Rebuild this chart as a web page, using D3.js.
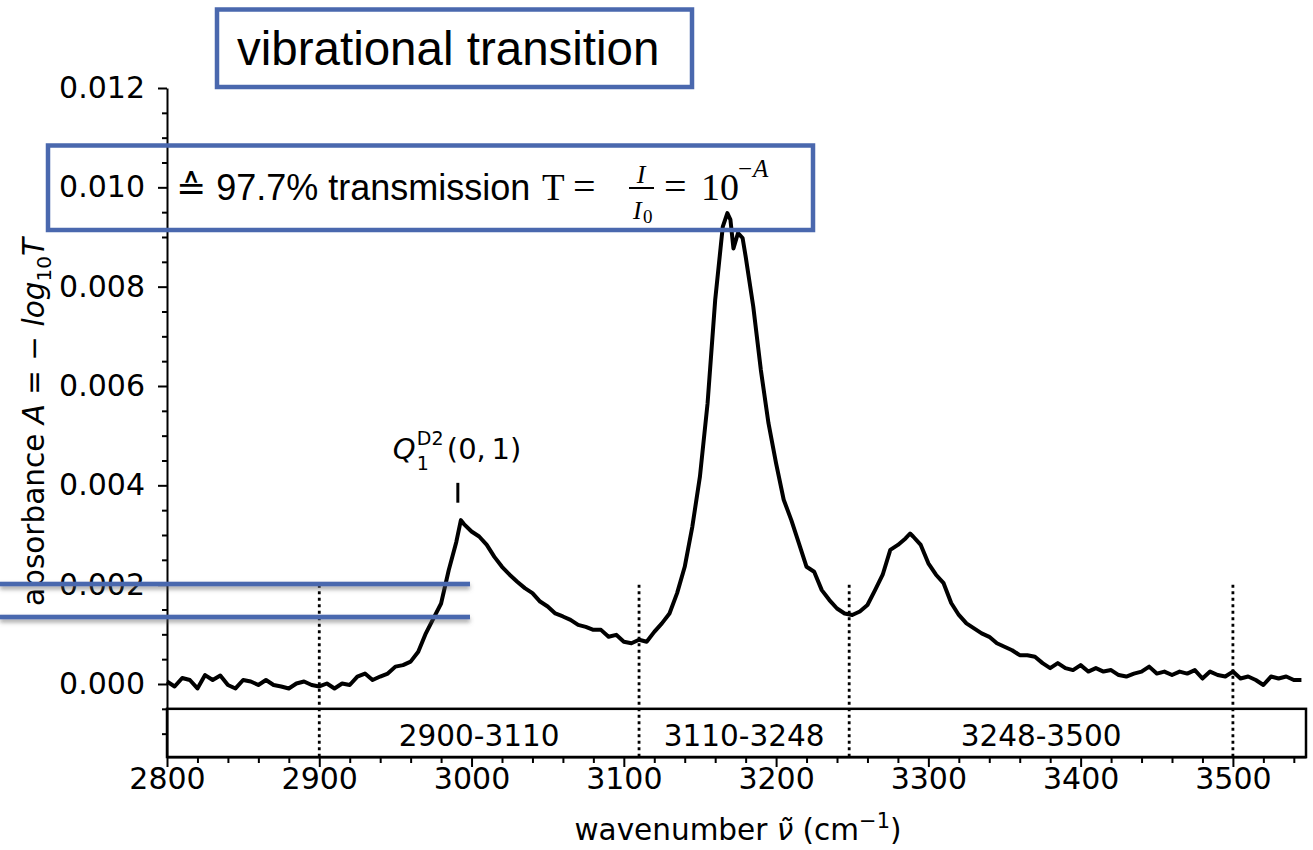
<!DOCTYPE html>
<html>
<head>
<meta charset="utf-8">
<script src="https://cdn.jsdelivr.net/npm/d3@7"></script>
<style>
  body { margin: 0; background: #fff; }
  svg { display: block; }
  .tick text { font-family: "DejaVu Sans", sans-serif; font-size: 30px; fill: #000; }
</style>
</head>
<body>
<svg id="chart" width="1313" height="850"></svg>
<script>
// spectrum (absorbance in units of 1e-3)
const wavenumber = [
  2800, 2805, 2810, 2815, 2820, 2825, 2830, 2835, 2840, 2845,
  2850, 2855, 2860, 2865, 2870, 2875, 2880, 2885, 2890, 2895,
  2900, 2905, 2910, 2915, 2920, 2925, 2930, 2935, 2940, 2945,
  2950, 2955, 2960, 2965, 2970, 2975, 2980, 2985, 2990, 2993,
  2995, 3000, 3005, 3010, 3015, 3020, 3025, 3030, 3035, 3040,
  3045, 3050, 3055, 3060, 3065, 3070, 3075, 3080, 3085, 3090,
  3095, 3100, 3105, 3110, 3115, 3120, 3125, 3130, 3135, 3140,
  3145, 3150, 3155, 3160, 3165, 3168, 3170, 3172, 3175, 3178,
  3180, 3185, 3190, 3195, 3200, 3205, 3210, 3215, 3220, 3225,
  3230, 3235, 3240, 3245, 3250, 3255, 3260, 3265, 3270, 3275,
  3280, 3285, 3288, 3290, 3295, 3300, 3305, 3310, 3315, 3320,
  3325, 3330, 3335, 3340, 3345, 3350, 3355, 3360, 3365, 3370,
  3375, 3380, 3385, 3390, 3395, 3400, 3405, 3410, 3415, 3420,
  3425, 3430, 3435, 3440, 3445, 3450, 3455, 3460, 3465, 3470,
  3475, 3480, 3485, 3490, 3495, 3500, 3505, 3510, 3515, 3520,
  3525, 3530, 3535, 3540, 3545
];
const absorbance = [
  0.05, -0.05, 0.12, 0.08, -0.09, 0.18, 0.08, 0.17, -0.02, -0.09,
  0.08, 0.05, -0.02, 0.08, -0.02, -0.05, -0.09, 0.01, 0.05, -0.02,
  -0.05, 0.01, -0.09, 0.01, -0.02, 0.15, 0.21, 0.08, 0.15, 0.21,
  0.35, 0.38, 0.45, 0.65, 1.02, 1.32, 1.62, 2.29, 2.86, 3.30,
  3.22, 3.07, 2.97, 2.80, 2.56, 2.36, 2.20, 2.06, 1.93, 1.83,
  1.66, 1.56, 1.42, 1.36, 1.29, 1.19, 1.15, 1.09, 1.09, 0.95,
  0.99, 0.85, 0.82, 0.89, 0.85, 1.05, 1.22, 1.42, 1.83, 2.36,
  3.17, 4.18, 5.65, 7.73, 9.21, 9.48, 9.35, 8.77, 9.08, 8.98,
  8.61, 7.60, 6.32, 5.25, 4.44, 3.71, 3.30, 2.83, 2.36, 2.26,
  1.89, 1.69, 1.52, 1.42, 1.39, 1.46, 1.59, 1.89, 2.20, 2.70,
  2.80, 2.93, 3.03, 2.97, 2.80, 2.43, 2.20, 2.03, 1.63, 1.39,
  1.22, 1.12, 1.02, 0.95, 0.82, 0.75, 0.68, 0.58, 0.58, 0.55,
  0.42, 0.32, 0.42, 0.32, 0.28, 0.38, 0.25, 0.32, 0.25, 0.28,
  0.18, 0.15, 0.21, 0.25, 0.35, 0.21, 0.25, 0.18, 0.25, 0.21,
  0.28, 0.11, 0.25, 0.18, 0.15, 0.25, 0.11, 0.15, 0.08, -0.02,
  0.15, 0.11, 0.15, 0.08, 0.08
];

const bandEdges = [2900, 3110, 3248, 3500];
const bandLabels = ["2900-3110", "3110-3248", "3248-3500"];
const xMajorTicks = [2800, 2900, 3000, 3100, 3200, 3300, 3400, 3500];
const yMajorTicks = [0, 2, 4, 6, 8, 10, 12];
const qPeak = 2991;

const blue = "#4a68ae";
const svg = d3.select("#chart");

const x = d3.scaleLinear([2800, 3548], [167, 1306]);
const y = d3.scaleLinear([-1.47, 12], [757, 88]);

const defs = svg.append("defs");
const shadow = defs.append("filter").attr("id", "shadow")
  .attr("filterUnits", "userSpaceOnUse")
  .attr("x", -20).attr("y", 560).attr("width", 520).attr("height", 90);
shadow.append("feDropShadow")
  .attr("dx", 0).attr("dy", 3).attr("stdDeviation", 2.2)
  .attr("flood-color", "#555").attr("flood-opacity", 0.55);

// band box under the spectrum
svg.append("rect")
  .attr("x", x(2800)).attr("y", y(-0.5))
  .attr("width", x(3548) - x(2800)).attr("height", y(-1.47) - y(-0.5))
  .attr("fill", "none").attr("stroke", "#000").attr("stroke-width", 2.5);

svg.selectAll(".edge")
  .data(bandEdges)
  .join("line")
  .attr("class", "edge")
  .attr("x1", (d) => x(d)).attr("x2", (d) => x(d))
  .attr("y1", y(2)).attr("y2", y(-1.47))
  .attr("stroke", "#000").attr("stroke-width", 2.8)
  .attr("stroke-dasharray", "3,3.5");

svg.selectAll(".band-label")
  .data(bandLabels)
  .join("text")
  .attr("class", "band-label")
  .attr("x", (d, i) => (x(bandEdges[i]) + x(bandEdges[i + 1])) / 2)
  .attr("y", 746)
  .attr("text-anchor", "middle")
  .style("font-family", "DejaVu Sans")
  .style("font-size", "29.5px")
  .text((d) => d);

// axes
const axisX = d3.axisBottom(x).tickValues(xMajorTicks).tickSize(10).tickSizeOuter(0).tickPadding(1).tickFormat(d3.format("d"));
const axisXMinor = d3.axisBottom(x).tickValues(d3.range(2820, 3548, 20).filter((d) => d % 100 !== 0)).tickSize(6).tickFormat("");
const axisY = d3.axisLeft(y).tickValues(yMajorTicks).tickSize(9).tickSizeOuter(0).tickPadding(13)
  .tickFormat((d) => (d / 1000).toFixed(3));
const axisYMinor = d3.axisLeft(y).tickValues(d3.range(-1, 12, 0.5).filter((d) => d % 2 !== 0)).tickSize(5).tickFormat("");

svg.append("g").attr("transform", `translate(0,${y(-1.47)})`).call(axisX);
svg.append("g").attr("transform", `translate(0,${y(-1.47)})`).call(axisXMinor).select(".domain").remove();
svg.append("g").attr("transform", `translate(${x(2800)},0)`).call(axisY);
svg.append("g").attr("transform", `translate(${x(2800)},0)`).call(axisYMinor).select(".domain").remove();
svg.selectAll(".domain, .tick line").attr("stroke", "#000").attr("stroke-width", 2);

// spectrum
const line = d3.line()
  .x((d, i) => x(wavenumber[i]))
  .y((d) => y(d));

svg.append("path")
  .attr("d", line(absorbance))
  .attr("fill", "none")
  .attr("stroke", "#000")
  .attr("stroke-width", 4)
  .attr("stroke-linejoin", "round");

// Q label
svg.append("line")
  .attr("x1", x(qPeak)).attr("x2", x(qPeak))
  .attr("y1", y(4.05)).attr("y2", y(3.65))
  .attr("stroke", "#000").attr("stroke-width", 3);

const q = svg.append("g").style("font-family", "DejaVu Sans").style("fill", "#000");
const qx = x(qPeak) - 65;
q.append("text").attr("x", qx).attr("y", 459).style("font-size", "29px").style("font-style", "italic").text("Q");
q.append("text").attr("x", qx + 24).attr("y", 470).style("font-size", "19px").text("1");
q.append("text").attr("x", qx + 24).attr("y", 445).style("font-size", "19px").text("D2");
q.append("text").attr("x", qx + 54).attr("y", 459).style("font-size", "29px").text("(0,\u20091)");

// axis titles
const yl = svg.append("text")
  .attr("transform", "translate(44,422) rotate(-90)")
  .attr("text-anchor", "middle")
  .style("font-family", "DejaVu Sans")
  .style("font-size", "29.5px");
yl.append("tspan").text("absorbance ");
yl.append("tspan").style("font-style", "italic").text("A");
yl.append("tspan").text(" = \u2212 ");
yl.append("tspan").style("font-style", "italic").text("log");
yl.append("tspan").attr("dy", 7).style("font-size", "20px").text("10");
yl.append("tspan").attr("dy", -7).style("font-style", "italic").text("T");

const xl = svg.append("text")
  .attr("x", 738).attr("y", 840)
  .attr("text-anchor", "middle")
  .style("font-family", "DejaVu Sans")
  .style("font-size", "29.5px");
xl.append("tspan").text("wavenumber ");
xl.append("tspan").style("font-style", "italic").text("\u03bd\u0303");
xl.append("tspan").text(" (cm");
xl.append("tspan").attr("dy", -12).style("font-size", "21px").text("\u22121");
xl.append("tspan").attr("dy", 12).text(")");

// blue marker lines
svg.selectAll(".marker")
  .data([584, 617])
  .join("rect")
  .attr("class", "marker")
  .attr("x", 0).attr("width", 470)
  .attr("y", (d) => d - 2.3).attr("height", 4.6)
  .attr("fill", blue)
  .attr("filter", "url(#shadow)");

// title box
svg.append("rect")
  .attr("x", 217).attr("y", 9.5).attr("width", 475).attr("height", 77.5)
  .attr("fill", "none").attr("stroke", blue).attr("stroke-width", 4.5);
svg.append("text")
  .attr("x", 237).attr("y", 65)
  .style("font-family", "Liberation Sans, Arial, sans-serif")
  .style("font-size", "47.5px")
  .text("vibrational transition");

// transmission box
svg.append("rect")
  .attr("x", 48).attr("y", 145.5).attr("width", 765).attr("height", 84.5)
  .attr("fill", "none").attr("stroke", blue).attr("stroke-width", 4.5);
const tb = svg.append("g");
tb.append("text")
  .attr("x", 176).attr("y", 200)
  .style("font-family", "Liberation Sans, DejaVu Sans, sans-serif")
  .style("font-size", "36px")
  .text("\u2259 97.7% transmission");
const serif = "Liberation Serif, serif";
tb.append("text").attr("x", 542).attr("y", 200).style("font-family", serif).style("font-size", "37px").text("T");
tb.append("text").attr("x", 573).attr("y", 200).style("font-family", serif).style("font-size", "40px").text("=");
tb.append("text").attr("x", 641).attr("y", 183).attr("text-anchor", "middle").style("font-family", serif).style("font-size", "26px").style("font-style", "italic").text("I");
tb.append("line").attr("x1", 629).attr("x2", 654).attr("y1", 188).attr("y2", 188).attr("stroke", "#000").attr("stroke-width", 2);
tb.append("text").attr("x", 633).attr("y", 219).style("font-family", serif).style("font-size", "26px").style("font-style", "italic").text("I");
tb.append("text").attr("x", 643).attr("y", 223).style("font-family", serif).style("font-size", "19px").text("0");
tb.append("text").attr("x", 664).attr("y", 200).style("font-family", serif).style("font-size", "40px").text("=");
tb.append("text").attr("x", 701).attr("y", 200).style("font-family", serif).style("font-size", "38px").text("10");
tb.append("text").attr("x", 738).attr("y", 177).style("font-family", serif).style("font-size", "25px").text("\u2212");
tb.append("text").attr("x", 753).attr("y", 177).style("font-family", serif).style("font-size", "25px").style("font-style", "italic").text("A");
</script>
</body>
</html>
